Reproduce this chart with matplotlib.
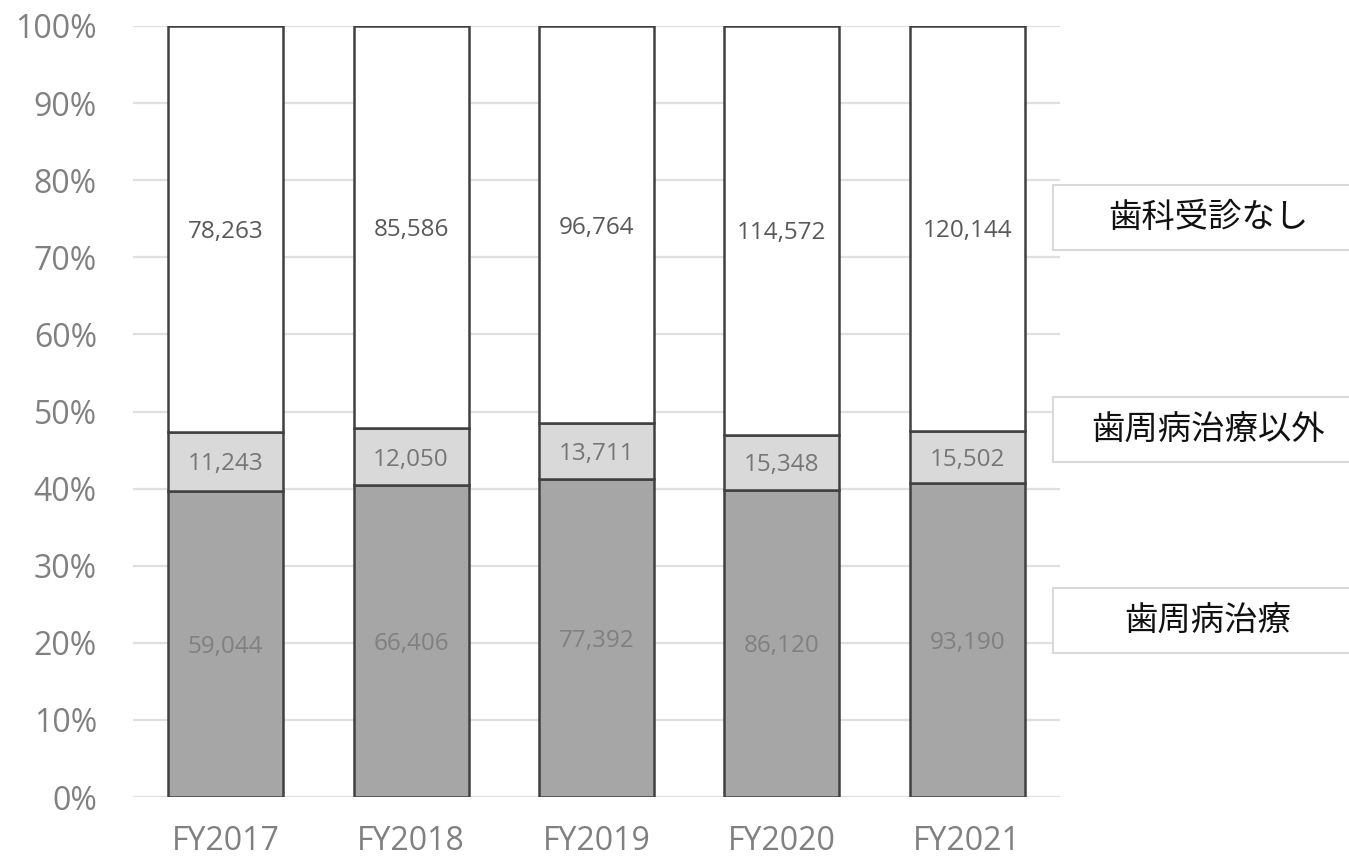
import matplotlib
matplotlib.use("Agg")
import matplotlib.pyplot as plt
from matplotlib.patches import Rectangle
import numpy as np

years = ["FY2017", "FY2018", "FY2019", "FY2020", "FY2021"]
perio = [59044, 66406, 77392, 86120, 93190]          # 歯周病治療
other = [11243, 12050, 13711, 15348, 15502]          # 歯周病治療以外
none_ = [78263, 85586, 96764, 114572, 120144]        # 歯科受診なし
series_names = ["歯周病治療", "歯周病治療以外", "歯科受診なし"]

plt.rcParams['font.family'] = ['Open Sans', 'Noto Sans CJK JP', 'DejaVu Sans']

W, H = 1349, 859
fig = plt.figure(figsize=(W/100, H/100), dpi=100)
ax = fig.add_axes([133/W, 1-797/H, (1060-133)/W, (797-26)/H])

data = np.array([perio, other, none_], dtype=float)
tot = data.sum(axis=0)
pct = data / tot * 100
x = np.arange(len(years))
colors = ["#a6a6a6", "#d9d9d9", "#ffffff"]
lab_colors = ["#808080", "#767676", "#595959"]
bottom = np.zeros(len(years))
for i in range(3):
    ax.bar(x, pct[i], bottom=bottom, width=0.62, color=colors[i],
           edgecolor="#404040", linewidth=1.8, zorder=3)
    for j in range(len(years)):
        ax.text(x[j], bottom[j] + pct[i][j]/2, f"{int(data[i][j]):,}",
                ha="center", va="center_baseline", fontsize=17.5, color=lab_colors[i], zorder=4)
    bottom += pct[i]

ax.set_xlim(-0.5, 4.5)
ax.set_ylim(0, 100)
ax.set_yticks(np.arange(0, 101, 10))
ax.set_yticklabels([f"{v}%" for v in range(0, 101, 10)])
ax.set_xticks(x)
ax.set_xticklabels(years)
ax.tick_params(axis='y', length=0, pad=26, labelsize=23, labelcolor="#808080")
ax.tick_params(axis='x', length=0, pad=20, labelsize=23, labelcolor="#808080")
ax.grid(axis='y', color="#e0e0e0", linewidth=1.6, zorder=0)
for s in ax.spines.values():
    s.set_visible(False)

# right-side series label boxes
boxes = [(185, 250, "歯科受診なし"), (397, 462, "歯周病治療以外"), (588, 653, "歯周病治療")]
for top, bot, name in boxes:
    r = Rectangle((1053/W, 1-bot/H), (1360-1053)/W, (bot-top)/H, transform=fig.transFigure,
                  facecolor="white", edgecolor="#d9d9d9", linewidth=1.5)
    fig.add_artist(r)
    fig.text(1208/W, 1-(top+bot)/2/H, name, ha="center", va="center", fontsize=24,
             family=['Noto Sans CJK JP'], color="#111111")

fig.savefig("out.png", dpi=100)
